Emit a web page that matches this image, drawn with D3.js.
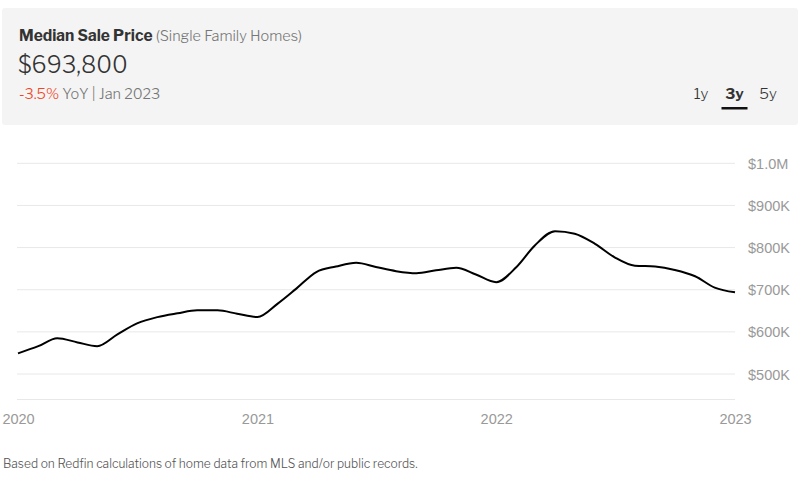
<!DOCTYPE html>
<html><head><meta charset="utf-8">
<script src="https://cdnjs.cloudflare.com/ajax/libs/d3/7.8.5/d3.min.js"></script>
<style>
body{margin:0;background:#fff;}
svg{display:block;font-family:"Libre Franklin",Roboto,"Noto Sans",sans-serif;}
</style></head>
<body><svg id="c" width="800" height="480"></svg>
<script>
const months = ["2020-01","2020-02","2020-03","2020-04","2020-05","2020-06","2020-07","2020-08","2020-09","2020-10","2020-11","2020-12",
"2021-01","2021-02","2021-03","2021-04","2021-05","2021-06","2021-07","2021-08","2021-09","2021-10","2021-11","2021-12",
"2022-01","2022-02","2022-03","2022-04","2022-05","2022-06","2022-07","2022-08","2022-09","2022-10","2022-11","2022-12","2023-01"];
const prices = [549000,566000,585000,575000,566000,594000,620000,635000,644000,651000,651000,643000,
635000,667000,702000,742000,755000,764000,754000,744000,739000,746000,752000,736000,
718000,754000,805000,839000,833000,809000,777000,757000,755000,747000,732000,705000,693800];
const yTicks = [500000,600000,700000,800000,900000,1000000];
const yTickLabels = ["$500K","$600K","$700K","$800K","$900K","$1.0M"];
const xTicks = ["2020-01","2021-01","2022-01","2023-01"];
const xTickLabels = ["2020","2021","2022","2023"];
const tabs = ["1y","3y","5y"];

const svg = d3.select("#c");
const parse = d3.timeParse("%Y-%m");
const data = months.map((m,i)=>({d:parse(m),v:prices[i]}));

// header panel
svg.append("rect").attr("x",2).attr("y",8).attr("width",796).attr("height",117).attr("rx",3).attr("fill","#f4f4f4");
const t1 = svg.append("text").attr("x",19).attr("y",41);
t1.append("tspan").text("Median Sale Price").attr("font-weight",700).attr("font-size",15.5).attr("fill","#333");
t1.append("tspan").text(" (Single Family Homes)").attr("font-size",14.5).attr("font-weight",300).attr("fill","#777");
svg.append("text").attr("x",18).attr("y",73).text("$693,800").attr("font-size",23).attr("font-weight",300).attr("fill","#333");
const t3 = svg.append("text").attr("x",19).attr("y",99).attr("font-size",14.5).attr("font-weight",300);
t3.append("tspan").text("-3.5%").attr("fill","#ef4524");
t3.append("tspan").text(" YoY | Jan 2023").attr("fill","#777");

const tabX = d3.scalePoint().domain(tabs).range([701,768]);
svg.selectAll(".tab").data(tabs).join("text").attr("class","tab")
  .attr("x",d=>tabX(d)).attr("y",99).attr("text-anchor","middle").attr("font-size",15)
  .attr("font-weight",d=>d==="3y"?700:300).attr("fill","#333").text(d=>d);
svg.append("rect").attr("x",tabX("3y")-13).attr("y",107).attr("width",26).attr("height",2.5).attr("fill","#111");

// chart
const x = d3.scaleTime().domain([parse("2020-01"),parse("2023-01")]).range([18,735]);
const y = d3.scaleLinear().domain([500000,1000000]).range([374,163.3]);
const yBottom = y.invert(399.5);

const grid = svg.append("g");
grid.selectAll("line").data(yTicks.concat([yBottom])).join("line")
  .attr("x1",17).attr("x2",735).attr("y1",d=>y(d)).attr("y2",d=>y(d))
  .attr("stroke","#e8e8e8").attr("stroke-width",1);

const yAxis = d3.axisRight(y).tickValues(yTicks).tickSize(0).tickPadding(0)
  .tickFormat((d,i)=>yTickLabels[i]);
const gy = svg.append("g").attr("transform","translate(748,0)").call(yAxis);
gy.select(".domain").remove();
gy.selectAll("text").attr("font-size",14.5).attr("font-weight",300).attr("fill","#999").attr("font-family","inherit").attr("dy","0.35em");

const xAxis = d3.axisBottom(x).tickValues(xTicks.map(parse)).tickSize(0).tickPadding(0)
  .tickFormat((d,i)=>xTickLabels[i]);
const gx = svg.append("g").attr("transform","translate(0,413.5)").call(xAxis);
gx.select(".domain").remove();
gx.selectAll("text").attr("font-size",14.5).attr("font-weight",300).attr("fill","#999").attr("font-family","inherit").attr("dy","0.75em");

const line = d3.line().x(d=>x(d.d)).y(d=>y(d.v)).curve(d3.curveMonotoneX);
svg.append("path").datum(data).attr("d",line).attr("fill","none").attr("stroke","#000").attr("stroke-width",2);

svg.append("text").attr("x",3).attr("y",468).attr("font-size",12).attr("font-weight",300).attr("fill","#555")
  .text("Based on Redfin calculations of home data from MLS and/or public records.");
</script></body></html>
